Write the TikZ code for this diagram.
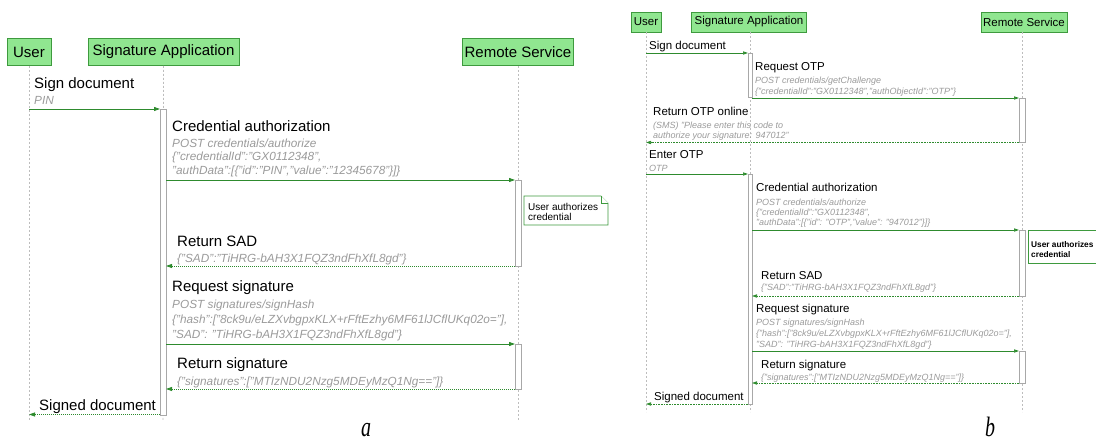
\documentclass[tikz,border=0pt]{standalone}
\usepackage{fontspec}
\usepackage{graphicx}
\setmainfont{Liberation Sans}
\newfontfamily\serifit{Liberation Serif}
\usetikzlibrary{arrows.meta}
\definecolor{hdrfill}{HTML}{90E690}
\definecolor{hdrline}{HTML}{3E9A3E}
\definecolor{arrgreen}{HTML}{2E8B2E}
\definecolor{subgrey}{HTML}{9A9A9A}
\definecolor{lifegrey}{HTML}{BDBDBD}
\definecolor{actgrey}{HTML}{A8A8A8}
\begin{document}
\begin{tikzpicture}[x=1pt,y=-1pt,
  hdrA/.style={draw=hdrline, fill=hdrfill, line width=0.8pt, inner sep=0pt, minimum height=27pt, font=\fontsize{15}{18}\selectfont},
  hdrB/.style={draw=hdrline, fill=hdrfill, line width=0.7pt, inner sep=0pt, minimum height=20pt, font=\fontsize{11.5}{14}\selectfont},
  msgA/.style={anchor=base west, inner sep=0pt, font=\fontsize{15}{18}\selectfont},
  subA/.style={anchor=base west, inner sep=0pt, text=subgrey, font=\fontsize{11.8}{14}\selectfont\itshape},
  msgB/.style={anchor=base west, inner sep=0pt, font=\fontsize{11.5}{14}\selectfont},
  subB/.style={anchor=base west, inner sep=0pt, text=subgrey, font=\fontsize{9}{11}\selectfont\itshape},
  noteA/.style={anchor=base west, inner sep=0pt, font=\fontsize{10}{12}\selectfont},
  noteB/.style={anchor=base west, inner sep=0pt, font=\fontsize{8.3}{10}\selectfont\bfseries},
  life/.style={draw=lifegrey, line width=0.7pt, dash pattern=on 2pt off 2pt},
  act/.style={draw=actgrey, fill=white, line width=0.6pt},
  notebox/.style={draw=hdrline, fill=white, line width=0.6pt},
  callA/.style={draw=arrgreen, line width=0.9pt, -{Triangle[length=6pt,width=4pt]}},
  retA/.style={draw=arrgreen, line width=0.8pt, dash pattern=on 1pt off 1pt, -{Triangle[length=6pt,width=4pt]}},
  callB/.style={draw=arrgreen, line width=0.7pt, -{Triangle[length=5pt,width=3.2pt]}},
  retB/.style={draw=arrgreen, line width=0.6pt, dash pattern=on 0.8pt off 0.8pt, -{Triangle[length=5pt,width=3.2pt]}},
  caption/.style={anchor=base, inner sep=0pt, font=\serifit\itshape\fontsize{20}{24}\selectfont}
]
\useasboundingbox (0,0) rectangle (1096,443);

% ================= diagram a =================
\node[hdrA, minimum width=44pt] (aU) at (29,52) {User};
\node[hdrA, minimum width=151pt] (aS) at (163.5,52) {Signature Application};
\node[hdrA, minimum width=111pt] (aR) at (518,52) {Remote Service};
\coordinate (aUe) at (29,421);
\coordinate (aSe) at (163,421);
\coordinate (aRe) at (518,421);
\draw[life] (aU.south) -- (aUe);
\draw[life] (aS.south) -- (aSe);
\draw[life] (aR.south) -- (aRe);

\draw[act] (160,109) rectangle (166,415);
\draw[act] (515,180) rectangle (521,266);
\draw[act] (515,344) rectangle (521,389);

\coordinate (a1s) at (29,109);   \coordinate (a1e) at (160,109);
\coordinate (a2s) at (166,180);  \coordinate (a2e) at (515,180);
\coordinate (a3s) at (515,266);  \coordinate (a3e) at (166,266);
\coordinate (a4s) at (166,344);  \coordinate (a4e) at (515,344);
\coordinate (a5s) at (515,389);  \coordinate (a5e) at (166,389);
\coordinate (a6s) at (160,414.5);\coordinate (a6e) at (29,414.5);
\draw[callA] (a1s) -- (a1e);
\draw[callA] (a2s) -- (a2e);
\draw[retA] (a3s) -- (a3e);
\draw[callA] (a4s) -- (a4e);
\draw[retA] (a5s) -- (a5e);
\draw[retA] (a6s) -- (a6e);

\node[msgA] (aT1) at (34,88.5) {Sign document};
\node[subA] (aT1a) at (34,105) {PIN};
\node[msgA] (aT2) at (172,131.5) {Credential authorization};
\node[subA] (aT2a) at (172,147.3) {POST credentials/authorize};
\node[subA] (aT2b) at (172,161) {\{"credentialId":"GX0112348",};
\node[subA] (aT2c) at (172,174.5) {"authData":[\{"id":"PIN","value":"12345678"\}]\}};

\draw[notebox] (524,196) -- (601,196) -- (608,203) -- (608,225) -- (524,225) -- cycle;
\draw[notebox] (601,196) -- (601,203) -- (608,203);
\node[noteA] (aN1) at (528,210.5) {User authorizes};
\node[noteA] (aN2) at (528,220.5) {credential};

\node[msgA] (aT3) at (177,246.4) {Return SAD};
\node[subA] (aT3a) at (177,262.3) {\{"SAD":"TiHRG-bAH3X1FQZ3ndFhXfL8gd"\}};
\node[msgA] (aT4) at (172,291.4) {Request signature};
\node[subA] (aT4a) at (172,308.3) {POST signatures/signHash};
\node[subA] (aT4b) at (172,323.5) {\{"hash":["8ck9u/eLZXvbgpxKLX+rFftEzhy6MF61lJCflUKq02o="],};
\node[subA] (aT4c) at (172,338.5) {"SAD": "TiHRG-bAH3X1FQZ3ndFhXfL8gd"\}};
\node[msgA] (aT5) at (177,368.4) {Return signature};
\node[subA] (aT5a) at (177,385.3) {\{"signatures":["MTIzNDU2Nzg5MDEyMzQ1Ng=="]\}};
\node[msgA] (aT6) at (39,411) {Signed document};

\node[caption] (capA) at (366,437) {\scalebox{1}[1.4]{a}};

% ================= diagram b =================
\node[hdrB, minimum width=30pt] (bU) at (646,22) {User};
\node[hdrB, minimum width=115pt] (bS) at (749,22) {Signature Application};
\node[hdrB, minimum width=86pt] (bR) at (1024,22) {Remote Service};
\coordinate (bUt) at (646,32);  \coordinate (bUe) at (646,412);
\coordinate (bSt) at (750,32);  \coordinate (bSe) at (750,412);
\coordinate (bRt) at (1022,32); \coordinate (bRe) at (1022,412);
\draw[life] (bUt) -- (bUe);
\draw[life] (bSt) -- (bSe);
\draw[life] (bRt) -- (bRe);

\draw[act] (748,53) rectangle (752,97);
\draw[act] (1019,98) rectangle (1025,142.5);
\draw[act] (748,174) rectangle (752,404);
\draw[act] (1019,230) rectangle (1025,296);
\draw[act] (1019,351) rectangle (1025,383);

\coordinate (b1s) at (646,53);    \coordinate (b1e) at (748,53);
\coordinate (b2s) at (752,98);    \coordinate (b2e) at (1019,98);
\coordinate (b3s) at (1019,142.5);\coordinate (b3e) at (646,142.5);
\coordinate (b4s) at (646,174);   \coordinate (b4e) at (748,174);
\coordinate (b5s) at (752,230);   \coordinate (b5e) at (1019,230);
\coordinate (b6s) at (1019,296);  \coordinate (b6e) at (752,296);
\coordinate (b7s) at (752,351);   \coordinate (b7e) at (1019,351);
\coordinate (b8s) at (1019,383);  \coordinate (b8e) at (752,383);
\coordinate (b9s) at (748,404);   \coordinate (b9e) at (646,404);
\draw[callB] (b1s) -- (b1e);
\draw[callB] (b2s) -- (b2e);
\draw[retB] (b3s) -- (b3e);
\draw[callB] (b4s) -- (b4e);
\draw[callB] (b5s) -- (b5e);
\draw[retB] (b6s) -- (b6e);
\draw[callB] (b7s) -- (b7e);
\draw[retB] (b8s) -- (b8e);
\draw[retB] (b9s) -- (b9e);

\node[msgB] (bT1) at (649,50) {Sign document};
\node[msgB] (bT2) at (755,71) {Request OTP};
\node[subB] (bT2a) at (755,84) {POST credentials/getChallenge};
\node[subB] (bT2b) at (755,95) {\{"credentialId":"GX0112348","authObjectId":"OTP"\}};
\node[msgB] (bT3) at (653,116) {Return OTP online};
\node[subB] (bT3a) at (653,128.2) {(SMS) "Please enter this code to};
\node[subB] (bT3b) at (653,138.4) {authorize your signature: 947012"};
\node[msgB] (bT4) at (649,159) {Enter OTP};
\node[subB] (bT4a) at (649,172) {OTP};
\node[msgB] (bT5) at (756,192) {Credential authorization};
\node[subB] (bT5a) at (756,205.2) {POST credentials/authorize};
\node[subB] (bT5b) at (756,215.5) {\{"credentialId":"GX0112348",};
\node[subB] (bT5c) at (756,226) {"authData":[\{"id": "OTP","value": "947012"\}]\}};

\draw[notebox] (1097,230) -- (1028,230) -- (1028,263) -- (1097,263);
\node[noteB] (bN1) at (1031,248) {User authorizes};
\node[noteB] (bN2) at (1031,258) {credential};

\node[msgB] (bT6) at (761,280) {Return SAD};
\node[subB] (bT6a) at (761,290.2) {\{"SAD":"TiHRG-bAH3X1FQZ3ndFhXfL8gd"\}};
\node[msgB] (bT7) at (756,313) {Request signature};
\node[subB] (bT7a) at (756,325.2) {POST signatures/signHash};
\node[subB] (bT7b) at (756,336.5) {\{"hash":["8ck9u/eLZXvbgpxKLX+rFftEzhy6MF61lJCflUKq02o="],};
\node[subB] (bT7c) at (756,348) {"SAD": "TiHRG-bAH3X1FQZ3ndFhXfL8gd"\}};
\node[msgB] (bT8) at (761,369) {Return signature};
\node[subB] (bT8a) at (761,380.2) {\{"signatures":["MTIzNDU2Nzg5MDEyMzQ1Ng=="]\}};
\node[msgB] (bT9) at (654,401) {Signed document};

\node[caption] (capB) at (990,437) {\scalebox{1}[1.4]{b}};
\end{tikzpicture}
\end{document}
